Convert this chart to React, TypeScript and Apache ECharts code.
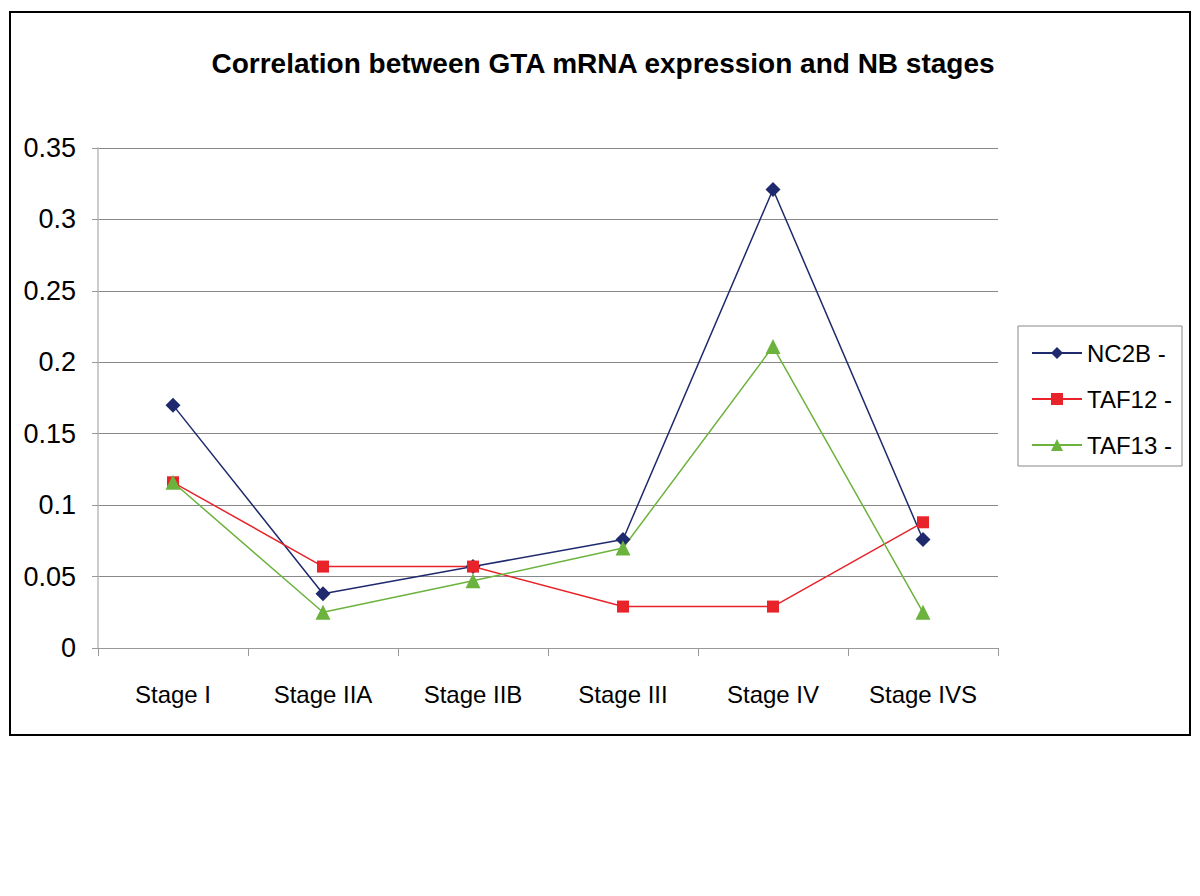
import React, { useEffect, useRef } from "react";
import * as echarts from "echarts";

const categories = ["Stage I", "Stage IIA", "Stage IIB", "Stage III", "Stage IV", "Stage IVS"];
const nc2b = [0.17, 0.038, 0.057, 0.076, 0.321, 0.076];
const taf12 = [0.116, 0.057, 0.057, 0.029, 0.029, 0.088];
const taf13 = [0.116, 0.025, 0.047, 0.07, 0.211, 0.025];
const seriesNames = ["NC2B -", "TAF12 -", "TAF13 -"];
const colors = ["#1f2a6e", "#e8232a", "#6cb33e"];
const yTicks = [0, 0.05, 0.1, 0.15, 0.2, 0.25, 0.3, 0.35];

const FONT = "'Liberation Sans Narrow', 'Liberation Sans', Arial, sans-serif";

export default function App() {
  const ref = useRef<HTMLDivElement>(null);
  useEffect(() => {
    if (!ref.current) return;
    const chart = echarts.init(ref.current, null, { renderer: "svg" });
    chart.setOption({
      animation: false,
      backgroundColor: "#ffffff",
      graphic: [
        {
          type: "rect",
          shape: { x: 2, y: 4, width: 1180, height: 723 },
          style: { fill: "none", stroke: "#000", lineWidth: 2 },
          silent: true,
        },
        {
          type: "rect",
          shape: { x: 1010, y: 318, width: 164, height: 140 },
          style: { fill: "none", stroke: "#888", lineWidth: 1 },
          silent: true,
        },
      ],
      title: {
        text: "Correlation between GTA mRNA expression and NB stages",
        left: 590,
        textAlign: "center",
        top: 36,
        textStyle: { fontFamily: FONT, fontWeight: "bold", fontSize: 28, color: "#000" },
      },
      legend: {
        orient: "vertical",
        left: 1018,
        top: 328,
        itemWidth: 50,
        itemHeight: 15,
        itemGap: 22,
        data: seriesNames,
        textStyle: { fontFamily: FONT, fontSize: 24, color: "#000" },
      },
      grid: { left: 90, top: 140, width: 900, height: 500, containLabel: false },
      xAxis: {
        type: "category",
        data: categories,
        boundaryGap: true,
        axisLine: { lineStyle: { color: "#999", width: 1 } },
        axisTick: { show: true, length: 8, inside: false, alignWithLabel: false, interval: 0, lineStyle: { color: "#999" } },
        axisLabel: { fontFamily: FONT, fontSize: 24, color: "#000", margin: 34, interval: 0 },
      },
      yAxis: {
        type: "value",
        min: 0,
        max: 0.35,
        interval: 0.05,
        axisLine: { show: true, lineStyle: { color: "#bbb", width: 1.5 } },
        axisTick: { show: true, length: 6, lineStyle: { color: "#999" } },
        splitLine: { show: true, lineStyle: { color: "#888", width: 1 } },
        axisLabel: {
          fontFamily: FONT,
          fontSize: 27,
          color: "#000",
          margin: 22,
          formatter: (v: number) => {
            const t = yTicks.find((x) => Math.abs(x - v) < 1e-9);
            return t === undefined ? "" : String(parseFloat(t.toFixed(2)));
          },
        },
      },
      series: [
        {
          name: seriesNames[0],
          type: "line",
          data: nc2b,
          symbol: "diamond",
          symbolSize: 15,
          itemStyle: { color: colors[0] },
          lineStyle: { color: colors[0], width: 1.5 },
        },
        {
          name: seriesNames[1],
          type: "line",
          data: taf12,
          symbol: "rect",
          symbolSize: 12,
          itemStyle: { color: colors[1] },
          lineStyle: { color: colors[1], width: 1.5 },
        },
        {
          name: seriesNames[2],
          type: "line",
          data: taf13,
          symbol: "triangle",
          symbolSize: 15,
          itemStyle: { color: colors[2] },
          lineStyle: { color: colors[2], width: 1.5 },
        },
      ],
    });
    return () => chart.dispose();
  }, []);
  return <div ref={ref} style={{ width: 1184, height: 880 }} />;
}
